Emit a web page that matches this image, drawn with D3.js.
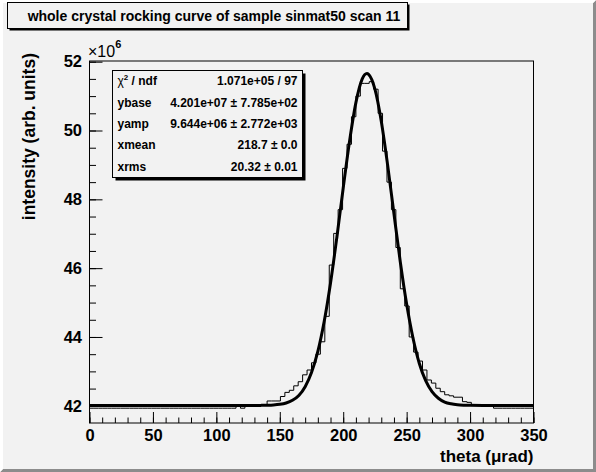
<!DOCTYPE html>
<html>
<head>
<meta charset="utf-8">
<script src="https://cdn.jsdelivr.net/npm/d3@7"></script>
<style>
  html, body { margin: 0; padding: 0; background: #f2f2f2; }
  svg text { font-family: "Liberation Sans", Arial, sans-serif; font-weight: bold; fill: #000; }
</style>
</head>
<body>
<svg id="chart" width="596" height="472"></svg>
<script>
// histogram: 100 bins of 3.5 urad from 0 to 350, values in units of 1e6
const binStart = 0;
const binWidth = 3.5;
const histValues = [
  41.93, 41.93, 41.93, 41.93, 41.93, 41.93, 41.93, 41.93, 41.93, 41.93,
  41.93, 41.93, 41.93, 41.93, 41.93, 41.93, 41.93, 41.93, 41.93, 41.93,
  41.93, 41.93, 41.93, 41.93, 41.93, 41.93, 41.93, 41.93, 41.93, 41.93,
  41.93, 41.93, 41.93, 42.00, 41.93, 42.01, 42.01, 42.01, 42.01, 42.01,
  42.14, 42.14, 42.14, 42.27, 42.39, 42.45, 42.58, 42.70, 42.90, 43.04,
  43.25, 43.50, 43.86, 44.60, 46.09, 47.01, 47.70, 48.90, 49.60, 50.40,
  51.00, 51.37, 51.37, 51.42, 51.20, 50.50, 49.40, 48.50, 47.70, 46.60,
  45.40, 44.90, 44.00, 43.56, 43.30, 43.04, 42.75, 42.66, 42.51, 42.41,
  42.32, 42.29, 42.25, 42.25, 42.12, 42.10, 42.02, 42.02, 42.02, 42.02,
  42.02, 41.93, 41.93, 41.93, 41.93, 41.93, 41.93, 41.93, 41.93, 41.93
];

// fit curve
const fitTheta = [0, 120, 130, 135, 140, 145, 150, 155, 160, 165, 170, 175, 180, 185, 190,
  195, 200, 205, 210, 215, 218.7, 220, 225, 230, 235, 240, 245, 250, 255, 260,
  265, 270, 275, 280, 285, 290, 295, 300, 310, 350];
const fitValue = [42.01, 42.01, 42.011, 42.012, 42.015, 42.023, 42.042, 42.081, 42.159, 42.30,
  42.556, 42.965, 43.58, 44.45, 45.57, 46.90, 48.33, 49.69, 50.81, 51.50,
  51.654, 51.63, 51.20, 50.27, 49.00, 47.58, 46.18, 44.955, 43.97, 43.23,
  42.73, 42.41, 42.22, 42.11, 42.057, 42.03, 42.018, 42.013, 42.01, 42.01];

const xMajorTicks = [0, 50, 100, 150, 200, 250, 300, 350];
const yMajorTicks = [42, 44, 46, 48, 50, 52];

const titleText = 'whole crystal rocking curve of sample sinmat50 scan 11';
const statLabels = ['ndf', 'ybase', 'yamp', 'xmean', 'xrms'];
const statValues = ['1.071e+05 / 97', '4.201e+07 \u00b1 7.785e+02', '9.644e+06 \u00b1 2.772e+03',
  '218.7 \u00b1 0.0', '20.32 \u00b1 0.01'];

const svg = d3.select('#chart');
const width = +svg.attr('width');
const height = +svg.attr('height');

const bg = '#f2f2f2';
const frame = { left: 89.5, right: 533.5, top: 61, bottom: 423 };

// canvas with bevel border
svg.append('rect').attr('width', width).attr('height', height).attr('fill', bg);
svg.append('path')
  .attr('d', `M${width},0 L${width},${height} L0,${height} L3,${height - 3} L${width - 3},${height - 3} L${width - 3},3 Z`)
  .attr('fill', '#8c8c8c');
svg.append('path')
  .attr('d', `M0,0 L${width},0 L${width - 3},3 L3,3 L3,${height - 3} L0,${height} Z`)
  .attr('fill', '#ffffff');

const x = d3.scaleLinear().domain([0, 350]).range([frame.left, frame.right]);
const y = d3.scaleLinear().domain([41.5, 52.02]).range([frame.bottom, frame.top]);

svg.append('clipPath').attr('id', 'frameClip')
  .append('rect')
  .attr('x', frame.left).attr('y', frame.top)
  .attr('width', frame.right - frame.left).attr('height', frame.bottom - frame.top);

const plot = svg.append('g').attr('clip-path', 'url(#frameClip)');

// histogram as a step outline
const histPoints = histValues.map((v, i) => [binStart + i * binWidth, v]);
histPoints.push([binStart + histValues.length * binWidth, histValues[histValues.length - 1]]);

plot.append('path')
  .datum(histPoints)
  .attr('fill', 'none')
  .attr('stroke', '#000')
  .attr('stroke-width', 1)
  .attr('d', d3.line().x(d => x(d[0])).y(d => y(d[1])).curve(d3.curveStepAfter));

// fitted curve
plot.append('path')
  .datum(fitTheta.map((t, i) => [t, fitValue[i]]))
  .attr('fill', 'none')
  .attr('stroke', '#000')
  .attr('stroke-width', 3)
  .attr('stroke-linejoin', 'round')
  .attr('d', d3.line().x(d => x(d[0])).y(d => y(d[1])).curve(d3.curveMonotoneX));

// axes, ticks pointing into the frame like ROOT
const xMinor = svg.append('g').attr('transform', `translate(0,${frame.bottom})`)
  .call(d3.axisBottom(x).tickValues(d3.range(0, 351, 10)).tickSize(-5.5).tickFormat(''));
const xMajor = svg.append('g').attr('transform', `translate(0,${frame.bottom})`)
  .call(d3.axisBottom(x).tickValues(xMajorTicks).tickSize(-11).tickPadding(6).tickFormat(d3.format('d')));

const yMinor = svg.append('g').attr('transform', `translate(${frame.left},0)`)
  .call(d3.axisLeft(y).tickValues(d3.range(42, 52.01, 0.5)).tickSize(-6.5).tickFormat(''));
const yMajor = svg.append('g').attr('transform', `translate(${frame.left},0)`)
  .call(d3.axisLeft(y).tickValues(yMajorTicks).tickSize(-13).tickPadding(7.5).tickFormat(d3.format('d')));

[xMinor, xMajor, yMinor, yMajor].forEach(g => {
  g.select('.domain').remove();
  g.selectAll('line').attr('stroke', '#000');
  g.selectAll('text')
    .attr('font-family', '"Liberation Sans", Arial, sans-serif')
    .attr('font-weight', 'bold')
    .attr('font-size', 16.5)
    .attr('fill', '#000');
});
xMajor.selectAll('text').attr('dy', '0.74em');

// frame border
svg.append('rect')
  .attr('x', frame.left).attr('y', frame.top)
  .attr('width', frame.right - frame.left).attr('height', frame.bottom - frame.top)
  .attr('fill', 'none').attr('stroke', '#000');

// exponent on the y axis (plain weight, not bold)
const expo = svg.append('text').attr('x', 88).attr('y', 57)
  .attr('font-size', 16).style('font-weight', 'normal');
expo.append('tspan').text('\u00d710');
expo.append('tspan').attr('font-size', 11).attr('dy', -9).style('font-weight', 'bold').text('6');

// axis titles
svg.append('text')
  .attr('x', frame.right).attr('y', 462)
  .attr('text-anchor', 'end')
  .attr('font-size', 17)
  .text('theta (\u03bcrad)');

svg.append('text')
  .attr('transform', 'translate(35,53) rotate(-90)')
  .attr('text-anchor', 'end')
  .attr('font-size', 17.5)
  .text('intensity (arb. units)');

// title box
svg.append('rect').attr('x', 9.5).attr('y', 4.5).attr('width', 400).attr('height', 26).attr('fill', '#000');
svg.append('rect').attr('x', 7.5).attr('y', 2.5).attr('width', 400).attr('height', 26)
  .attr('fill', bg).attr('stroke', '#000');
svg.append('text')
  .attr('x', 214).attr('y', 20.5)
  .attr('text-anchor', 'middle')
  .attr('font-size', 14)
  .text(titleText);

// stats box
const stats = { x: 112.5, y: 70.5, w: 190, h: 107 };
svg.append('rect').attr('x', stats.x + 3).attr('y', stats.y + 3)
  .attr('width', stats.w).attr('height', stats.h).attr('fill', '#000');
svg.append('rect').attr('x', stats.x).attr('y', stats.y)
  .attr('width', stats.w).attr('height', stats.h)
  .attr('fill', bg).attr('stroke', '#000');

const rowH = stats.h / statLabels.length;
statLabels.forEach((lab, i) => {
  const ty = stats.y + rowH * (i + 0.5) + 4;
  const t = svg.append('text').attr('x', stats.x + 5).attr('y', ty).attr('font-size', 12);
  if (i === 0) {
    t.append('tspan').style('font-weight', 'normal').text('\u03c7');
    t.append('tspan').attr('font-size', 8).attr('dy', -5).text('2');
    t.append('tspan').attr('dy', 5).text(' / ' + lab);
  } else {
    t.text(lab);
  }
  svg.append('text')
    .attr('x', stats.x + stats.w - 5).attr('y', ty)
    .attr('text-anchor', 'end')
    .attr('font-size', 12)
    .text(statValues[i]);
});
</script>
</body>
</html>
